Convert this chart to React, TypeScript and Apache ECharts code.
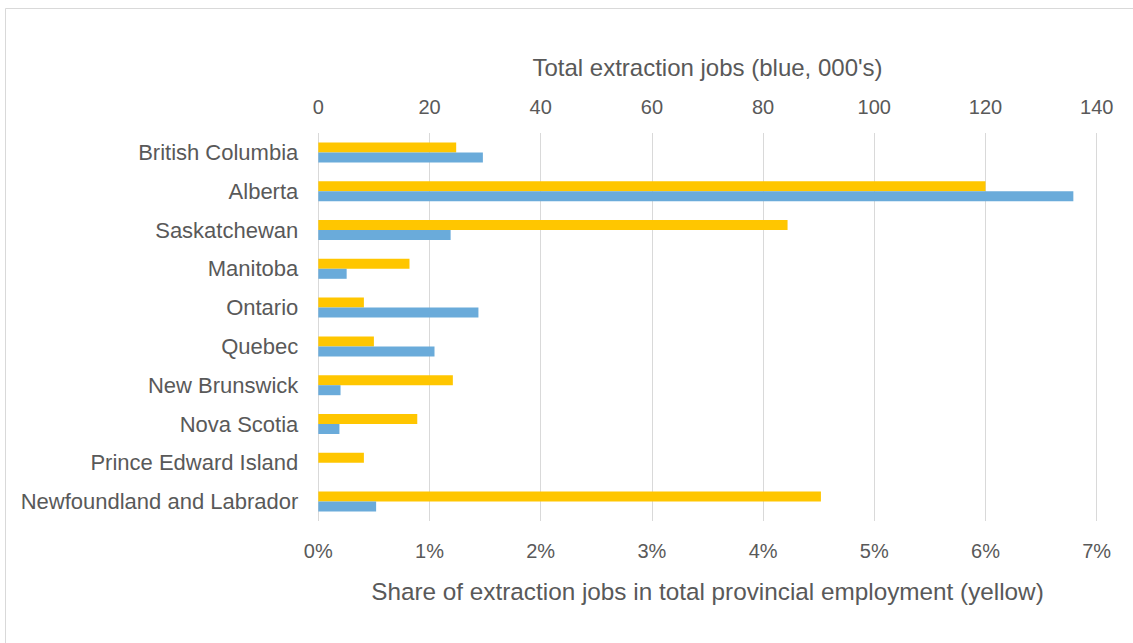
import React, { useEffect, useRef } from "react";
import * as echarts from "echarts";

const categories = [
  "British Columbia",
  "Alberta",
  "Saskatchewan",
  "Manitoba",
  "Ontario",
  "Quebec",
  "New Brunswick",
  "Nova Scotia",
  "Prince Edward Island",
  "Newfoundland and Labrador",
];

// Share of extraction jobs in total provincial employment (%), yellow
const shareValues = [1.24, 6.0, 4.22, 0.82, 0.41, 0.5, 1.21, 0.89, 0.41, 4.52];

// Total extraction jobs (000's), blue
const jobsValues = [29.6, 135.8, 23.8, 5.1, 28.8, 20.9, 4.0, 3.8, 0, 10.4];

const topAxisName = "Total extraction jobs (blue, 000's)";
const bottomAxisName = "Share of extraction jobs in total provincial employment (yellow)";

const FONT = "'Liberation Sans', Arial, sans-serif";
const TEXT = "#595959";
const GRID = "#d9d9d9";

export default function App() {
  const ref = useRef<HTMLDivElement>(null);

  useEffect(() => {
    if (!ref.current) return;
    const chart = echarts.init(ref.current, undefined, { renderer: "svg" });
    chart.setOption({
      animation: false,
      backgroundColor: "#ffffff",
      textStyle: { fontFamily: FONT },
      graphic: [
        {
          type: "rect",
          silent: true,
          shape: { x: 5.5, y: 8.5, width: 1300, height: 800 },
          style: { fill: "none", stroke: GRID, lineWidth: 1 },
        },
      ],
      grid: { left: 318.3, right: 36.3, top: 133, bottom: 122, containLabel: false },
      xAxis: [
        {
          type: "value",
          position: "bottom",
          min: 0,
          max: 7,
          interval: 1,
          name: bottomAxisName,
          nameLocation: "middle",
          nameGap: 58,
          nameTextStyle: { fontSize: 24.3, color: TEXT, fontFamily: FONT },
          axisLine: { show: false },
          axisTick: { show: false },
          axisLabel: {
            formatter: "{value}%",
            fontSize: 20,
            color: TEXT,
            margin: 20,
            fontFamily: FONT,
          },
          splitLine: { show: true, lineStyle: { color: GRID, width: 1 } },
        },
        {
          type: "value",
          position: "top",
          min: 0,
          max: 140,
          interval: 20,
          name: topAxisName,
          nameLocation: "middle",
          nameGap: 54,
          nameTextStyle: { fontSize: 24, color: TEXT, fontFamily: FONT },
          axisLine: { show: false },
          axisTick: { show: false },
          axisLabel: { fontSize: 20, color: TEXT, margin: 16, fontFamily: FONT },
          splitLine: { show: false },
        },
      ],
      yAxis: {
        type: "category",
        data: categories,
        inverse: true,
        axisLine: { show: false },
        axisTick: { show: false },
        axisLabel: {
          fontSize: 22,
          color: TEXT,
          margin: 20,
          fontFamily: FONT,
          padding: [4, 0, 0, 0],
        },
      },
      series: [
        {
          name: "Share",
          type: "bar",
          xAxisIndex: 0,
          data: shareValues,
          barWidth: 10,
          barGap: "0%",
          itemStyle: { color: "#FFC600" },
        },
        {
          name: "Jobs",
          type: "bar",
          xAxisIndex: 1,
          data: jobsValues,
          barWidth: 10,
          barGap: "0%",
          itemStyle: { color: "#6AABDA" },
        },
      ],
    });
    return () => chart.dispose();
  }, []);

  return (
    <div
      ref={ref}
      style={{ position: "absolute", left: 0, top: 0, width: 1133, height: 643 }}
    />
  );
}
